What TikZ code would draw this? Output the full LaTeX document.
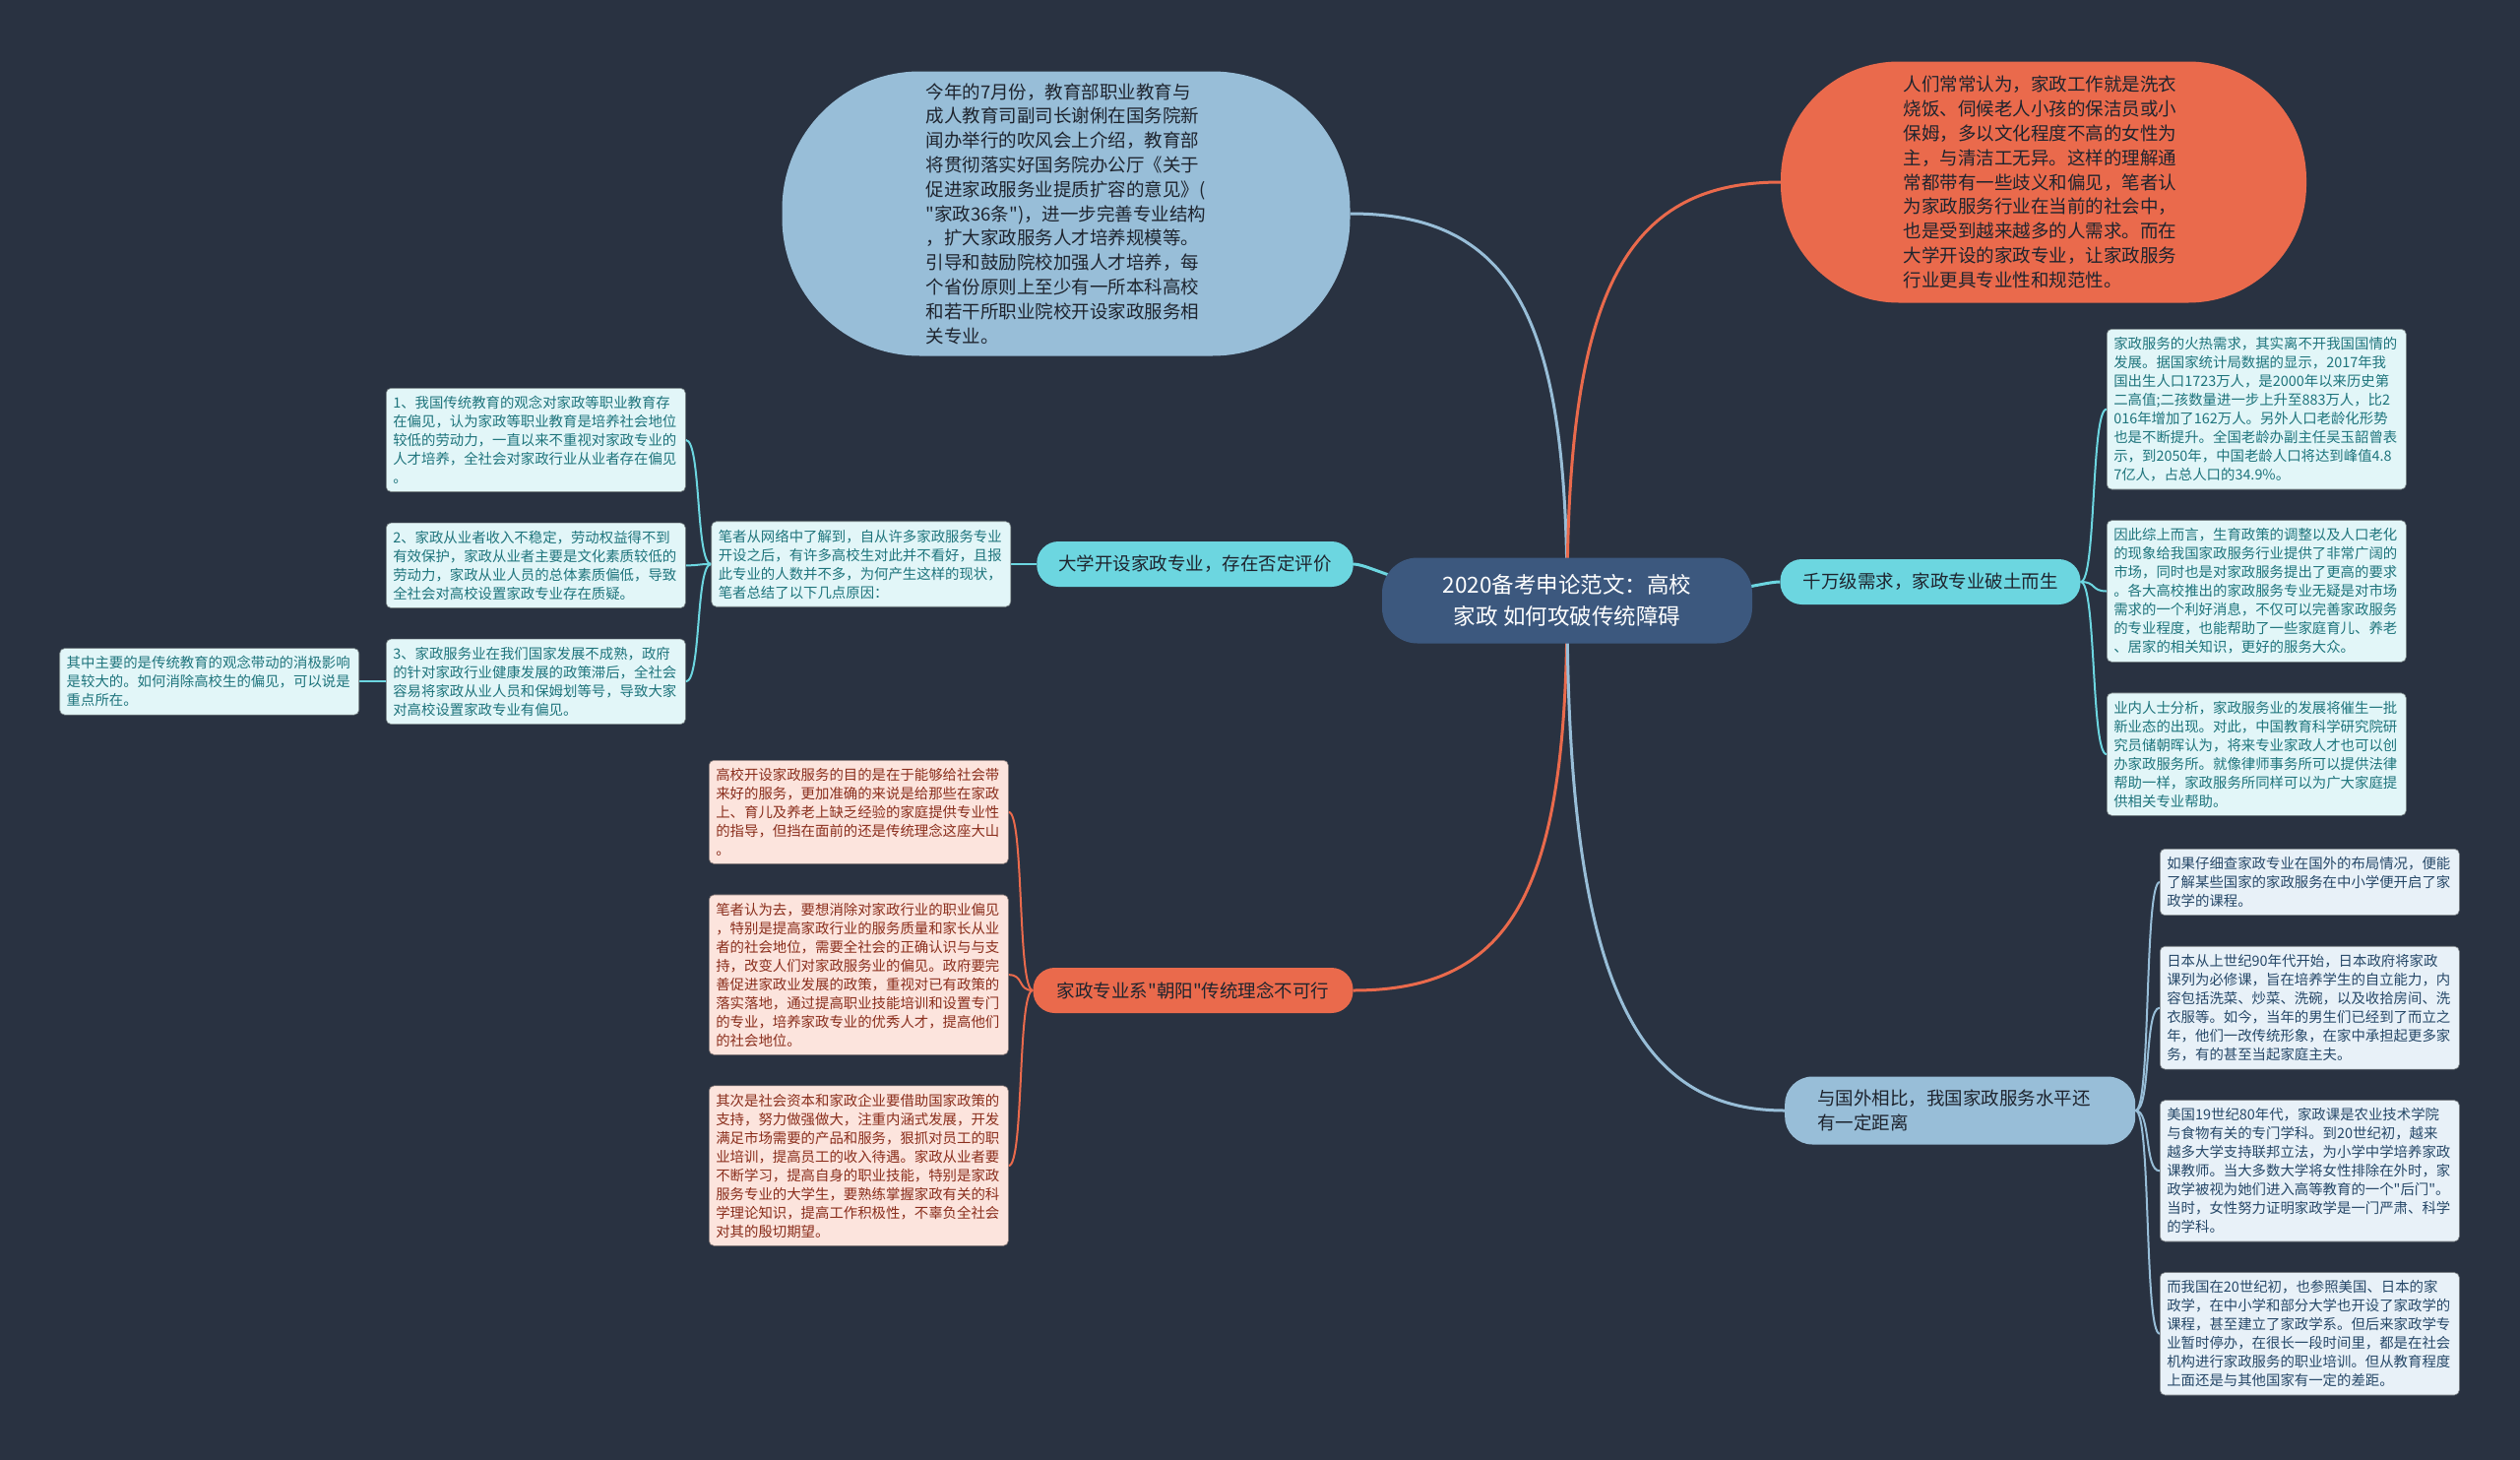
\documentclass[tikz,border=0pt]{standalone}
\usepackage{fontspec}
\usepackage{xcolor}
\usepackage{tikz}
\usetikzlibrary{positioning, backgrounds}
\newfontfamily\cjk{Noto Sans CJK SC}
\definecolor{BgNavy}{RGB}{41,50,65}
\definecolor{HubBlue}{RGB}{60,88,126}
\definecolor{SkyBlue}{RGB}{152,190,216}
\definecolor{Coral}{RGB}{234,106,76}
\definecolor{Aqua}{RGB}{108,214,224}
\definecolor{AquaPale}{RGB}{226,246,248}
\definecolor{AquaInk}{RGB}{30,116,124}
\definecolor{CoralPale}{RGB}{252,228,221}
\definecolor{CoralInk}{RGB}{138,46,28}
\definecolor{SkyPale}{RGB}{232,241,248}
\definecolor{SkyInk}{RGB}{38,72,104}
\definecolor{DarkInk}{RGB}{30,36,46}
\newcommand\hubfont{\cjk\fontsize{22.5}{32}\selectfont}
\newcommand\bubfont{\cjk\fontsize{18.5}{24.8}\selectfont}
\newcommand\leaffont{\cjk\fontsize{14.4}{19}\selectfont}

\begin{document}
\begin{tikzpicture}[
  x=1pt, y=-1pt,
  every node/.style={align=left},
  hubnode/.style={
    rectangle, rounded corners=36pt, fill=HubBlue, text=white,
    font=\hubfont, align=center, minimum width=376pt, minimum height=87pt
  },
  bubble/.style={
    rectangle, font=\bubfont, text width=285pt, inner sep=0pt
  },
  branch/.style={
    rectangle, rounded corners=22pt, font=\bubfont,
    minimum height=46pt, inner xsep=22pt
  },
  leaf/.style={
    rectangle, rounded corners=5pt, font=\leaffont, text width=290pt,
    inner xsep=7pt, inner ysep=8pt, line width=0.6pt
  },
  leafaqua/.style={leaf, fill=AquaPale, text=AquaInk, draw=AquaPale!55!black},
  leafcoral/.style={leaf, fill=CoralPale, text=CoralInk, draw=CoralPale!55!black},
  leafsky/.style={leaf, fill=SkyPale, text=SkyInk, draw=SkyPale!55!black},
  link/.style={line width=3pt},
  sublink/.style={line width=2pt}
]
\useasboundingbox (0,0) rectangle (2560,1483);

% ================ 中心主题 ================
\node[hubnode] (hub) at (1592,610)
  {2020备考申论范文：高校\\家政 如何攻破传统障碍};

% ================ 上方两个气泡 ================
\node[bubble, fill=SkyBlue, text=DarkInk, rounded corners=140pt,
      minimum width=577pt, minimum height=289pt] (bubEdu) at (1083,217)
  {今年的7月份，教育部职业教育与\\
   成人教育司副司长谢俐在国务院新\\
   闻办举行的吹风会上介绍，教育部\\
   将贯彻落实好国务院办公厅《关于\\
   促进家政服务业提质扩容的意见》(\\
   "家政36条")，进一步完善专业结构\\
   ，扩大家政服务人才培养规模等。\\
   引导和鼓励院校加强人才培养，每\\
   个省份原则上至少有一所本科高校\\
   和若干所职业院校开设家政服务相\\
   关专业。};

\node[bubble, fill=Coral, text=DarkInk, rounded corners=120pt,
      minimum width=534pt, minimum height=245pt] (bubView) at (2076,185)
  {人们常常认为，家政工作就是洗衣\\
   烧饭、伺候老人小孩的保洁员或小\\
   保姆，多以文化程度不高的女性为\\
   主，与清洁工无异。这样的理解通\\
   常都带有一些歧义和偏见，笔者认\\
   为家政服务行业在当前的社会中，\\
   也是受到越来越多的人需求。而在\\
   大学开设的家政专业，让家政服务\\
   行业更具专业性和规范性。};

% ================ 左侧：否定评价 ================
\node[branch, fill=Aqua, text=DarkInk] (brEval) at (1214,573)
  {大学开设家政专业，存在否定评价};
\node[leafaqua, left=26pt of brEval] (evalIntro)
  {笔者从网络中了解到，自从许多家政服务专业\\
   开设之后，有许多高校生对此并不看好，且报\\
   此专业的人数并不多，为何产生这样的现状，\\
   笔者总结了以下几点原因：};

\node[leafaqua, anchor=north west] (evalA) at (392,394)
  {1、我国传统教育的观念对家政等职业教育存\\
   在偏见，认为家政等职业教育是培养社会地位\\
   较低的劳动力，一直以来不重视对家政专业的\\
   人才培养，全社会对家政行业从业者存在偏见\\
   。};
\node[leafaqua, below=31pt of evalA] (evalB)
  {2、家政从业者收入不稳定，劳动权益得不到\\
   有效保护，家政从业者主要是文化素质较低的\\
   劳动力，家政从业人员的总体素质偏低，导致\\
   全社会对高校设置家政专业存在质疑。};
\node[leafaqua, below=31pt of evalB] (evalC)
  {3、家政服务业在我们国家发展不成熟，政府\\
   的针对家政行业健康发展的政策滞后，全社会\\
   容易将家政从业人员和保姆划等号，导致大家\\
   对高校设置家政专业有偏见。};
\node[leafaqua, left=27pt of evalC] (evalNote)
  {其中主要的是传统教育的观念带动的消极影响\\
   是较大的。如何消除高校生的偏见，可以说是\\
   重点所在。};

% ================ 右侧：千万级需求 ================
\node[branch, fill=Aqua, text=DarkInk, inner xsep=23pt] (brDemand) at (1961,591)
  {千万级需求，家政专业破土而生};

\node[leafaqua, anchor=north west] (demandA) at (2140,334)
  {家政服务的火热需求，其实离不开我国国情的\\
   发展。据国家统计局数据的显示，2017年我\\
   国出生人口1723万人，是2000年以来历史第\\
   二高值;二孩数量进一步上升至883万人，比2\\
   016年增加了162万人。另外人口老龄化形势\\
   也是不断提升。全国老龄办副主任吴玉韶曾表\\
   示，到2050年，中国老龄人口将达到峰值4.8\\
   7亿人，占总人口的34.9\%。};
\node[leafaqua, below=31pt of demandA] (demandB)
  {因此综上而言，生育政策的调整以及人口老化\\
   的现象给我国家政服务行业提供了非常广阔的\\
   市场，同时也是对家政服务提出了更高的要求\\
   。各大高校推出的家政服务专业无疑是对市场\\
   需求的一个利好消息，不仅可以完善家政服务\\
   的专业程度，也能帮助了一些家庭育儿、养老\\
   、居家的相关知识，更好的服务大众。};
\node[leafaqua, below=31pt of demandB] (demandC)
  {业内人士分析，家政服务业的发展将催生一批\\
   新业态的出现。对此，中国教育科学研究院研\\
   究员储朝晖认为，将来专业家政人才也可以创\\
   办家政服务所。就像律师事务所可以提供法律\\
   帮助一样，家政服务所同样可以为广大家庭提\\
   供相关专业帮助。};

% ================ 左下：传统理念 ================
\node[branch, fill=Coral, text=DarkInk, minimum width=325pt] (brIdea) at (1212,1006)
  {家政专业系"朝阳"传统理念不可行};

\node[leafcoral, anchor=north west] (ideaA) at (720,772)
  {高校开设家政服务的目的是在于能够给社会带\\
   来好的服务，更加准确的来说是给那些在家政\\
   上、育儿及养老上缺乏经验的家庭提供专业性\\
   的指导，但挡在面前的还是传统理念这座大山\\
   。};
\node[leafcoral, below=31pt of ideaA] (ideaB)
  {笔者认为去，要想消除对家政行业的职业偏见\\
   ，特别是提高家政行业的服务质量和家长从业\\
   者的社会地位，需要全社会的正确认识与与支\\
   持，改变人们对家政服务业的偏见。政府要完\\
   善促进家政业发展的政策，重视对已有政策的\\
   落实落地，通过提高职业技能培训和设置专门\\
   的专业，培养家政专业的优秀人才，提高他们\\
   的社会地位。};
\node[leafcoral, below=31pt of ideaB] (ideaC)
  {其次是社会资本和家政企业要借助国家政策的\\
   支持，努力做强做大，注重内涵式发展，开发\\
   满足市场需要的产品和服务，狠抓对员工的职\\
   业培训，提高员工的收入待遇。家政从业者要\\
   不断学习，提高自身的职业技能，特别是家政\\
   服务专业的大学生，要熟练掌握家政有关的科\\
   学理论知识，提高工作积极性，不辜负全社会\\
   对其的殷切期望。};

% ================ 右下：与国外相比 ================
\node[branch, fill=SkyBlue, text=DarkInk, text width=290pt, inner xsep=33pt,
      rounded corners=28pt, minimum height=69pt, anchor=west] (brAbroad) at (1813,1128)
  {与国外相比，我国家政服务水平还\\有一定距离};

\node[leafsky, anchor=north west] (abroadA) at (2194,862)
  {如果仔细查家政专业在国外的布局情况，便能\\
   了解某些国家的家政服务在中小学便开启了家\\
   政学的课程。};
\node[leafsky, below=31pt of abroadA] (abroadB)
  {日本从上世纪90年代开始，日本政府将家政\\
   课列为必修课，旨在培养学生的自立能力，内\\
   容包括洗菜、炒菜、洗碗，以及收拾房间、洗\\
   衣服等。如今，当年的男生们已经到了而立之\\
   年，他们一改传统形象，在家中承担起更多家\\
   务，有的甚至当起家庭主夫。};
\node[leafsky, below=31pt of abroadB] (abroadC)
  {美国19世纪80年代，家政课是农业技术学院\\
   与食物有关的专门学科。到20世纪初，越来\\
   越多大学支持联邦立法，为小学中学培养家政\\
   课教师。当大多数大学将女性排除在外时，家\\
   政学被视为她们进入高等教育的一个"后门"。\\
   当时，女性努力证明家政学是一门严肃、科学\\
   的学科。};
\node[leafsky, below=31pt of abroadC] (abroadD)
  {而我国在20世纪初，也参照美国、日本的家\\
   政学，在中小学和部分大学也开设了家政学的\\
   课程，甚至建立了家政学系。但后来家政学专\\
   业暂时停办，在很长一段时间里，都是在社会\\
   机构进行家政服务的职业培训。但从教育程度\\
   上面还是与其他国家有一定的差距。};

% ================ 连线（置于底层） ================
\begin{scope}[on background layer]
  \fill[BgNavy] (0,0) rectangle (2560,1483);
  % 中心到各分支
  \draw[link, draw=SkyBlue] (hub.center) .. controls +(0,-280) and +(170,0) .. (bubEdu.east);
  \draw[link, draw=Coral] (hub.center) .. controls +(0,-310) and +(-160,0) .. (bubView.west);
  \draw[link, draw=Coral] (hub.center) .. controls +(0,290) and +(165,0) .. (brIdea.east);
  \draw[link, draw=SkyBlue] (hub.center) .. controls +(0,390) and +(-150,0) .. (brAbroad.west);
  \draw[link, draw=Aqua] (hub.center) .. controls +(-150,0) and +(20,0) .. (brEval.east);
  \draw[link, draw=Aqua] (hub.center) .. controls +(150,0) and +(-20,0) .. (brDemand.west);
  % 否定评价
  \draw[sublink, draw=Aqua] (brEval.west) -- (evalIntro.east);
  \draw[sublink, draw=Aqua] (evalIntro.west) .. controls +(-16,0) and +(16,0) .. (evalA.east);
  \draw[sublink, draw=Aqua] (evalIntro.west) .. controls +(-16,0) and +(16,0) .. (evalB.east);
  \draw[sublink, draw=Aqua] (evalIntro.west) .. controls +(-16,0) and +(16,0) .. (evalC.east);
  \draw[sublink, draw=Aqua] (evalC.west) -- (evalNote.east);
  % 千万级需求
  \draw[sublink, draw=Aqua] (brDemand.east) .. controls +(16,0) and +(-16,0) .. (demandA.west);
  \draw[sublink, draw=Aqua] (brDemand.east) .. controls +(16,0) and +(-16,0) .. (demandB.west);
  \draw[sublink, draw=Aqua] (brDemand.east) .. controls +(16,0) and +(-16,0) .. (demandC.west);
  % 传统理念
  \draw[sublink, draw=Coral] (brIdea.west) .. controls +(-16,0) and +(16,0) .. (ideaA.east);
  \draw[sublink, draw=Coral] (brIdea.west) .. controls +(-16,0) and +(16,0) .. (ideaB.east);
  \draw[sublink, draw=Coral] (brIdea.west) .. controls +(-16,0) and +(16,0) .. (ideaC.east);
  % 与国外相比
  \draw[sublink, draw=SkyBlue] (brAbroad.east) .. controls +(16,0) and +(-16,0) .. (abroadA.west);
  \draw[sublink, draw=SkyBlue] (brAbroad.east) .. controls +(16,0) and +(-16,0) .. (abroadB.west);
  \draw[sublink, draw=SkyBlue] (brAbroad.east) .. controls +(16,0) and +(-16,0) .. (abroadC.west);
  \draw[sublink, draw=SkyBlue] (brAbroad.east) .. controls +(16,0) and +(-16,0) .. (abroadD.west);
\end{scope}
\end{tikzpicture}
\end{document}
